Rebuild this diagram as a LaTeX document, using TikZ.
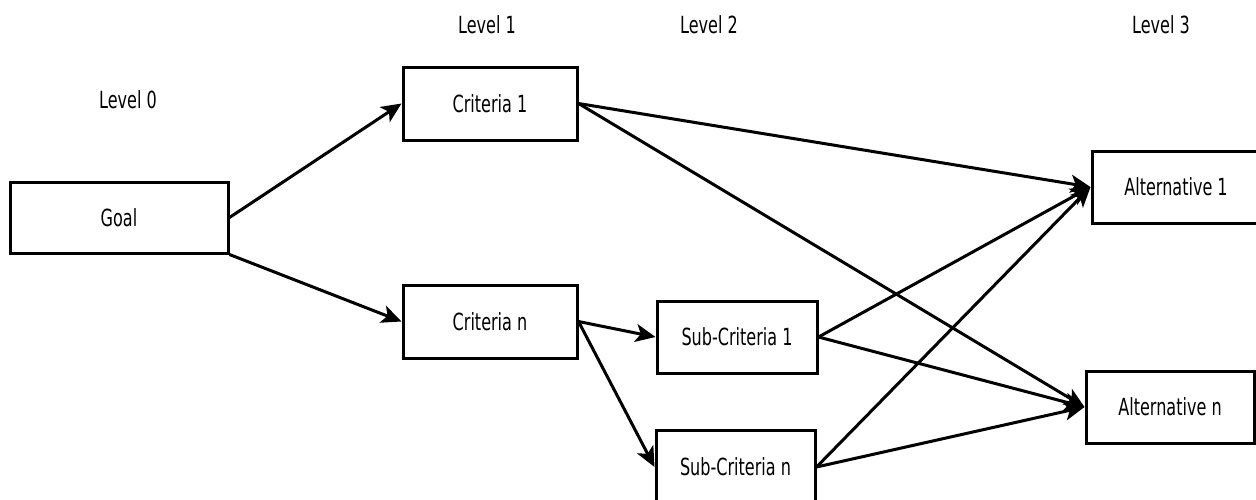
\documentclass[tikz,border=0pt]{standalone}
\usepackage{fontspec}
\setmainfont{DejaVu Sans}[FakeStretch=0.68]
\usepackage{tikz}
\usetikzlibrary{arrows.meta}

\begin{document}
\begin{tikzpicture}[x=0.5pt,y=-0.5pt]
			\tikzset{box/.style={shape=rectangle, draw=black, line width=1.5pt, align=center, inner sep=0pt, font=\fontsize{11.8}{14}\selectfont}}
			\tikzset{lvl/.style={font=\fontsize{11.8}{14}\selectfont}}
			\tikzset{flow/.style={line width=1.5pt, -{Stealth[length=10pt,width=9pt,inset=2.5pt]}}}
			\clip (0,0) rectangle (1256,499);
			% level labels
			\node[lvl] (lvl0) at (128,100) {Level 0};
			\node[lvl] (lvl1) at (487,25) {Level 1};
			\node[lvl] (lvl2) at (709,25) {Level 2};
			\node[lvl] (lvl3) at (1161,25) {Level 3};
			% boxes
			\node[box, minimum width=109pt, minimum height=35.5pt] (goal) at (119,217.5) {Goal};
			\node[box, minimum width=87pt, minimum height=36.5pt] (crit1) at (490,103.5) {Criteria 1};
			\node[box, minimum width=87pt, minimum height=36.5pt] (critn) at (490,321.5) {Criteria n};
			\node[box, minimum width=80pt, minimum height=36pt] (sub1) at (737,337) {Sub-Criteria 1};
			\node[box, minimum width=79.5pt, minimum height=36.5pt] (subn) at (735.5,467) {Sub-Criteria n};
			\node[box, minimum width=84pt, minimum height=36pt] (alt1) at (1176,187) {Alternative 1};
			\node[box, minimum width=84pt, minimum height=36pt] (altn) at (1170,407) {Alternative n};
			% connectors
			\draw[flow] (goal.east) -- (crit1.west);
			\draw[flow] (goal.south east) -- (critn.west);
			\draw[flow] (crit1.east) -- (alt1.west);
			\draw[flow] (crit1.east) -- (altn.west);
			\draw[flow] (critn.east) -- (sub1.west);
			\draw[flow] (critn.east) -- (subn.west);
			\draw[flow] (sub1.east) -- (alt1.west);
			\draw[flow] (sub1.east) -- (altn.west);
			\draw[flow] (subn.east) -- (alt1.west);
			\draw[flow] (subn.east) -- (altn.west);
		\end{tikzpicture}
\end{document}
